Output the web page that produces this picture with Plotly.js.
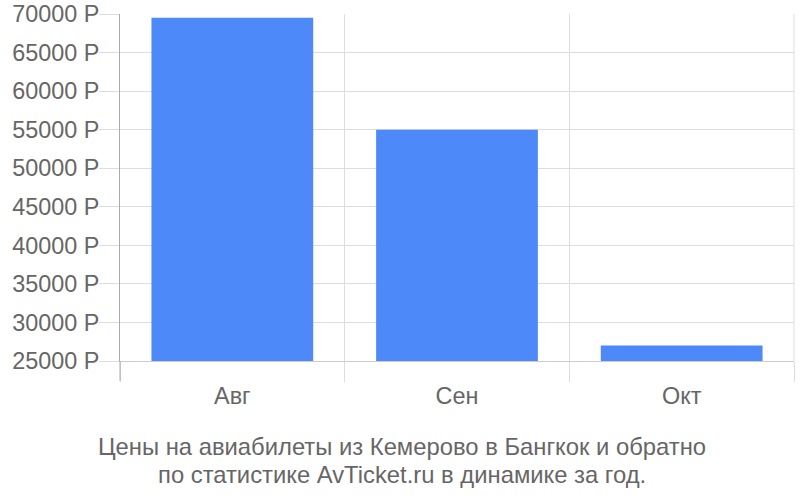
<!DOCTYPE html>
<html>
<head>
<meta charset="utf-8">
<script src="https://cdn.plot.ly/plotly-3.0.1.min.js"></script>
<style>html,body{margin:0;padding:0;background:#fff;}#chart{width:800px;height:500px;}</style>
</head>
<body>
<div id="chart"></div>
<script>
var months = ["Авг", "Сен", "Окт"];
var prices = [69500, 55000, 27000];
var yTicks = [25000, 30000, 35000, 40000, 45000, 50000, 55000, 60000, 65000, 70000];
var yTickLabels = yTicks.map(function (v) { return v + " Р"; });
var titleLines = ["Цены на авиабилеты из Кемерово в Бангкок и обратно", "по статистике AvTicket.ru в динамике за год."];

var fontFamily = "Liberation Sans, Arial, sans-serif";
var textColor = "#666666";

var trace = {
  type: "bar",
  x: months,
  y: prices,
  base: 0,
  marker: { color: "#4e89f9", line: { width: 0 } },
  hoverinfo: "none"
};

var layout = {
  width: 800,
  height: 500,
  margin: { l: 120, r: 6, t: 14, b: 138.5 },
  paper_bgcolor: "#ffffff",
  plot_bgcolor: "#ffffff",
  showlegend: false,
  bargap: 0.28,
  font: { family: fontFamily, size: 23.4, color: textColor },
  xaxis: {
    type: "category",
    tickson: "boundaries",
    ticks: "outside",
    ticklen: 20,
    tickwidth: 1,
    tickcolor: "#dddddd",
    ticklabelstandoff: 14,
    showgrid: true,
    gridcolor: "#dddddd",
    gridwidth: 1,
    showline: true,
    linecolor: "#cccccc",
    linewidth: 1,
    tickfont: { family: fontFamily, size: 23.4, color: textColor },
    fixedrange: true
  },
  yaxis: {
    range: [25000, 70000],
    tickvals: yTicks,
    ticktext: yTickLabels,
    ticks: "outside",
    ticklen: 20,
    tickwidth: 1,
    tickcolor: "#dddddd",
    ticklabelstandoff: -5,
    showgrid: true,
    gridcolor: "#dddddd",
    gridwidth: 1,
    showline: true,
    linecolor: "#aaaaaa",
    linewidth: 1,
    zeroline: false,
    tickfont: { family: fontFamily, size: 23.4, color: textColor },
    fixedrange: true
  },
  shapes: [
    { type: "line", xref: "paper", yref: "paper", x0: 0, x1: 0, y0: 0, y1: -0.0576, line: { color: "#aaaaaa", width: 1 } },
    { type: "line", xref: "paper", yref: "paper", x0: 1, x1: 1, y0: 0, y1: 1, line: { color: "#dddddd", width: 1 } }
  ],
  annotations: [
    { xref: "paper", yref: "paper", x: 0.4177, y: -0.246, xanchor: "center", yanchor: "middle", showarrow: false,
      text: titleLines[0], font: { family: fontFamily, size: 23.8, color: textColor } },
    { xref: "paper", yref: "paper", x: 0.4177, y: -0.328, xanchor: "center", yanchor: "middle", showarrow: false,
      text: titleLines[1], font: { family: fontFamily, size: 23.8, color: textColor } }
  ]
};

Plotly.newPlot("chart", [trace], layout, { displayModeBar: false, staticPlot: true });
</script>
</body>
</html>
